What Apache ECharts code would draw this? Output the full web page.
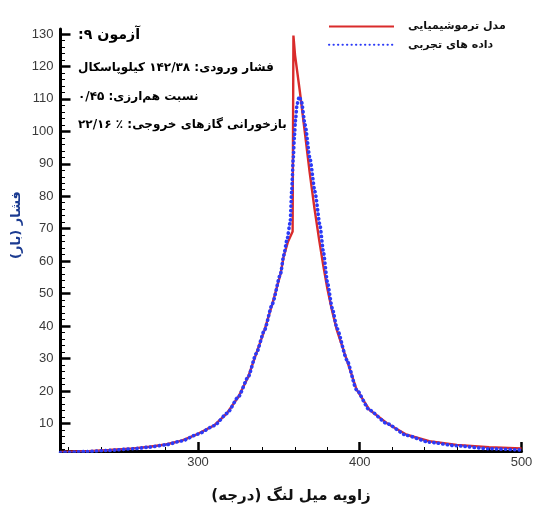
<!DOCTYPE html>
<html>
<head>
<meta charset="utf-8">
<script src="https://cdn.jsdelivr.net/npm/echarts@6/dist/echarts.min.js"></script>
<style>
html,body{margin:0;padding:0;background:#fff;}
#chart{width:535px;height:509px;}
</style>
</head>
<body>
<div id="chart"></div>
<script>
// ---- data ----
const angleModel = [215, 230, 245, 260, 270, 280, 290, 300, 310, 318, 325, 331, 336, 341, 346, 351, 353, 355.5, 358.5, 359, 360, 363, 366, 369, 372, 375, 377.5, 380, 383, 386, 392, 398, 406, 417, 429, 443, 460, 480, 500];
const pressureModel = [1.2, 1.4, 1.8, 2.3, 2.8, 3.5, 4.7, 6.8, 9.4, 13.2, 18.2, 24.3, 31.5, 38.6, 46.9, 56.0, 61.5, 65.8, 69.1, 129.5, 123.5, 112.2, 99.9, 87.5, 76.3, 66.3, 58.5, 51.5, 44.5, 38.5, 29.5, 20.5, 14.2, 10.0, 6.5, 4.5, 3.4, 2.7, 2.3];

const angleExp = [215, 230, 245, 260, 270, 280, 290, 300, 310, 318, 325, 331, 336, 341, 346, 351, 353, 355, 357, 357.9, 358.9, 359.6, 360.3, 361.2, 362.6, 364, 366.2, 369.2, 372.3, 375.4, 377.5, 380, 383, 386, 392, 398, 406, 417, 429, 443, 460, 480, 500];
const pressureExp = [1.0, 1.3, 1.7, 2.2, 2.7, 3.4, 4.6, 6.7, 9.3, 13.1, 18.2, 24.3, 31.5, 38.6, 46.9, 56.0, 61.8, 66.5, 72.0, 81.4, 91.7, 98.5, 103.5, 108.2, 110.7, 109.1, 102.0, 91.7, 81.4, 71.1, 63.0, 53.5, 45.5, 39.2, 29.6, 20.4, 14.1, 9.9, 6.3, 4.2, 3.1, 2.2, 1.8];

const xMajorTicks = [300, 400, 500];
const xMinorTicks = [220, 240, 260, 280, 320, 340, 360, 380, 420, 440, 460, 480];
const yMajorTicks = [10, 20, 30, 40, 50, 60, 70, 80, 90, 100, 110, 120, 130];
const yMinorTicks = [2, 4, 6, 8, 12, 14, 16, 18, 22, 24, 26, 28, 32, 34, 36, 38, 42, 44, 46, 48, 52, 54, 56, 58, 62, 64, 66, 68, 72, 74, 76, 78, 82, 84, 86, 88, 92, 94, 96, 98, 102, 104, 106, 108, 112, 114, 116, 118, 122, 124, 126, 128];

const seriesNames = ['مدل ترموشیمیایی', 'داده های تجربی'];
const xTitle = 'زاویه میل لنگ (درجه)';
const yTitle = 'فشار (بار)';
const infoLines = [
  'آزمون ۹:',
  'فشار ورودی: ۱۴۲/۳۸ کیلوپاسکال',
  'نسبت هم‌ارزی: ۰/۴۵',
  'بازخورانی گازهای خروجی: ٪ ۲۲/۱۶'
];

const RLM = '\u200F';
const rtl = s => RLM + s + RLM;
const zip = (a, b) => a.map((v, i) => [v, b[i]]);

const FA = 'DejaVu Sans';
const NUM = 'Liberation Sans, Arial, sans-serif';

const chart = echarts.init(document.getElementById('chart'), null, {renderer: 'canvas'});

const infoY = [35, 68, 97, 125];
const infoSize = [14.2, 12, 12, 12];

chart.setOption({
  animation: false,
  backgroundColor: '#ffffff',
  grid: {left: 60.5, right: 13.5, top: 29.1, bottom: 58, outerBoundsMode: 'none'},
  legend: {
    orient: 'vertical',
    left: 328,
    top: 21,
    padding: 0,
    itemWidth: 65,
    itemHeight: 14,
    itemGap: 7,
    formatter: n => rtl(n),
    itemStyle: {color: 'rgba(0,0,0,0)', borderWidth: 0, opacity: 0},
    textStyle: {fontFamily: FA, fontWeight: 'bold', fontSize: 11, color: '#111', padding: [0, 0, 0, 9]},
    data: seriesNames
  },
  xAxis: [{
    type: 'value', min: 215, max: 500,
    name: xTitle,
    nameLocation: 'middle', nameGap: 38,
    nameTextStyle: {fontFamily: FA, fontWeight: 'bold', fontSize: 15, color: '#111'},
    axisLine: {show: true, lineStyle: {color: '#000', width: 3}},
    axisTick: {show: true, inside: true, length: 9, lineStyle: {color: '#000', width: 2.5}, customValues: xMajorTicks},
    axisLabel: {show: true, customValues: xMajorTicks, margin: 5, fontFamily: NUM, fontSize: 13, color: '#3a3a3a'},
    splitLine: {show: false}
  }, {
    type: 'value', min: 215, max: 500, position: 'bottom',
    axisLine: {show: false},
    axisTick: {show: true, inside: true, length: 4, lineStyle: {color: '#000', width: 1}, customValues: xMinorTicks},
    axisLabel: {show: false},
    splitLine: {show: false}
  }],
  yAxis: [{
    type: 'value', min: 1.5, max: 131.5,
    axisLine: {show: true, lineStyle: {color: '#000', width: 3}},
    axisTick: {show: true, inside: true, length: 10, lineStyle: {color: '#000', width: 2.5}, customValues: yMajorTicks},
    axisLabel: {show: true, customValues: yMajorTicks, margin: 7, fontFamily: NUM, fontSize: 13, color: '#3a3a3a'},
    splitLine: {show: false}
  }, {
    type: 'value', min: 1.5, max: 131.5, position: 'left', offset: 0,
    axisLine: {show: false},
    axisTick: {show: true, inside: true, length: 4.5, lineStyle: {color: '#000', width: 1}, customValues: yMinorTicks},
    axisLabel: {show: false},
    splitLine: {show: false}
  }],
  series: [{
    name: seriesNames[0],
    type: 'line',
    xAxisIndex: 0, yAxisIndex: 0,
    symbol: 'none',
    smooth: false,
    lineStyle: {color: '#d92b2b', width: 2.4},
    itemStyle: {color: '#d92b2b'},
    data: zip(angleModel, pressureModel),
    z: 2
  }, {
    name: seriesNames[1],
    type: 'line',
    xAxisIndex: 0, yAxisIndex: 0,
    symbol: 'none',
    smooth: 0.2,
    smoothMonotone: 'x',
    lineStyle: {color: '#2b3af7', width: 3.6, type: [0.3, 4.2], cap: 'round'},
    itemStyle: {color: '#2b3af7'},
    data: zip(angleExp, pressureExp),
    z: 3
  }],
  graphic: [
    {
      type: 'text', x: 17, y: 225, rotation: Math.PI / 2,
      style: {text: rtl(yTitle), fontFamily: FA, fontWeight: 'bold', fontSize: 13, fill: '#1b3b91', align: 'center', verticalAlign: 'middle'}
    }
  ].concat(infoLines.map((t, i) => ({
    type: 'text', x: 78, y: infoY[i],
    style: {text: rtl(t), fontFamily: FA, fontWeight: 'bold', fontSize: infoSize[i], fill: '#000', align: 'left', verticalAlign: 'middle'}
  })))
});
</script>
</body>
</html>
